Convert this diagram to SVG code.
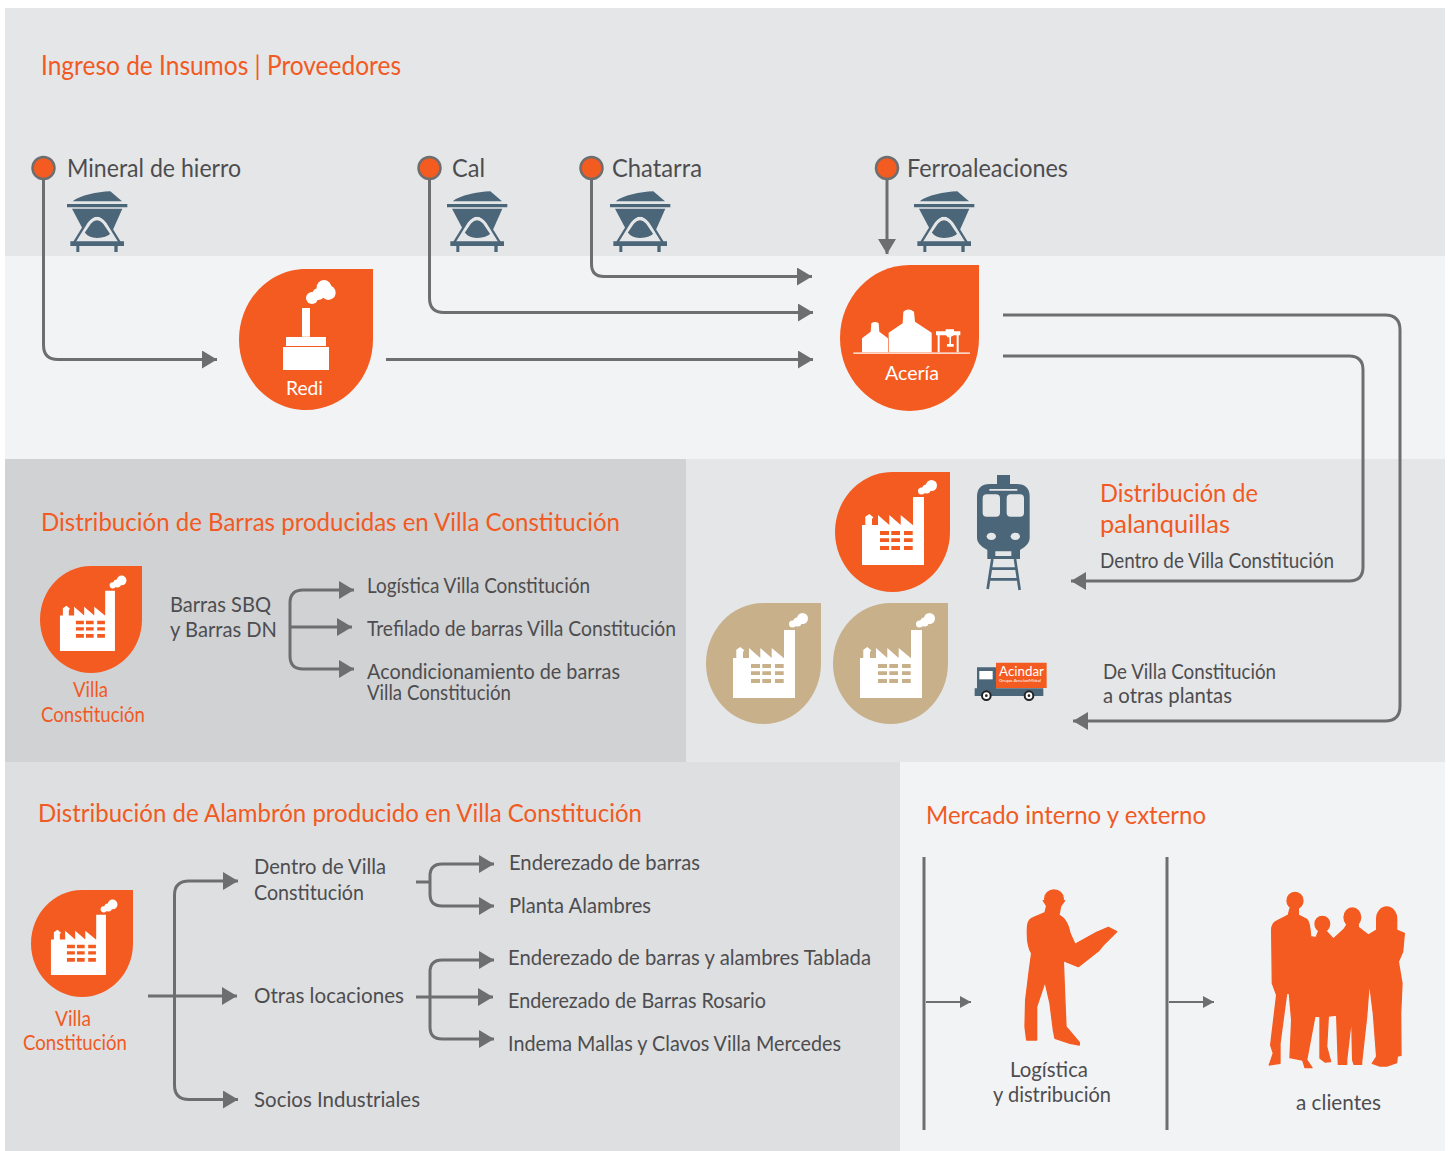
<svg xmlns="http://www.w3.org/2000/svg" width="1451" height="1151" viewBox="0 0 1451 1151">
<style>
text{font-family:"Lato","Noto Sans","Liberation Sans",sans-serif;fill:#4d4d4f}
.h{fill:#f15a22;font-size:25px}
.o{fill:#f15a22;font-size:21px}
.l{font-size:25px}
.m{font-size:22px}
.s{font-size:21px}
.w{fill:#fff;font-size:20px}
.c{fill:none;stroke:#6d6e70;stroke-width:3}
.a{marker-end:url(#arr)}
.b{marker-start:url(#arr);marker-end:url(#arr)}
.t{fill:none;stroke:#6d6e70;stroke-width:2;marker-end:url(#arrs)}
.or{fill:#f45b20;color:#f45b20}
.tan{fill:#c8b08b;color:#c8b08b}
.dot{fill:#f45b20;stroke:#6d6e70;stroke-width:2.5}
.ic{fill:#4c6679}
.sil{fill:#f45b20;stroke:#f45b20;stroke-width:4;stroke-linejoin:round}
</style>
<defs>
<marker id="arr" markerUnits="userSpaceOnUse" markerWidth="16" markerHeight="18" refX="15" refY="9" orient="auto-start-reverse"><path d="M0 0L15 9L0 18Z" fill="#6d6e70"/></marker>
<marker id="arrs" markerUnits="userSpaceOnUse" markerWidth="12" markerHeight="14" refX="11" refY="7" orient="auto"><path d="M0 1L11 7L0 13Z" fill="#6d6e70"/></marker>
<path id="drop" d="M100 0H50C22.4 0 0 22.4 0 50C0 77.6 22.4 100 50 100C77.6 100 100 77.6 100 50Z"/>
<g id="factory">
<path fill="#fff" d="M27 54H30.3V45.7L34.3 43L38.3 46.3L37 48V54H43V44L54.3 54V44L65.7 54V44L77.7 54H78V26H89V94H27Z"/>
<g fill="#fff"><circle cx="96.5" cy="14.5" r="5.5"/><circle cx="91.5" cy="18" r="4.5"/><circle cx="86.5" cy="20" r="3.5"/></g>
<path fill="currentColor" d="M45 60h9v4h-9zM56.3 60h8.7v4h-8.7zM69 60h8.7v4h-8.7zM45 67.3h9v3.7h-9zM56.3 67.3h8.7v3.7h-8.7zM69 67.3h8.7v3.7h-8.7zM45 75h9v4h-9zM56.3 75h8.7v4h-8.7zM69 75h8.7v4h-8.7z"/>
</g>
<g id="hopper" transform="scale(.33333)">
<path class="ic" d="M17 43C40 25 90 15 130 13L165 43ZM0 51H181V61H0ZM15 65H166L135 135Q120 153 90 153Q65 153 52 135Z"/>
<path fill="none" stroke="#e5e6e8" stroke-width="11" d="M24 170L68 106Q90 82 112 106L156 170"/>
<path fill="none" stroke="#4c6679" stroke-width="7" d="M18 172L60 104Q90 68 120 104L162 172"/>
<path fill="#e5e6e8" d="M45 140L30 163H150L135 140Q120 153 90 153Q65 153 45 140Z"/>
<path class="ic" d="M10 163H171V177H10ZM28 177H37V195H28ZM142 177H152V195H142Z"/>
</g>
</defs>

<g id="panels">
<rect x="5" y="8" width="1440" height="248" fill="#e5e6e8"/>
<rect x="5" y="256" width="1440" height="203" fill="#f2f3f5"/>
<rect x="5" y="459" width="681" height="303" fill="#d1d2d4"/>
<rect x="686" y="459" width="759" height="303" fill="#e5e6e8"/>
<rect x="5" y="762" width="895" height="389" fill="#dedfe1"/>
<rect x="900" y="762" width="545" height="389" fill="#f2f3f5"/>
</g>

<g id="connectors">
<path class="c a" d="M43.5 180V345Q43.5 359.5 58 359.5H217"/>
<path class="c a" d="M429.5 180V298Q429.5 312.5 444 312.5H813"/>
<path class="c a" d="M591.5 180V264Q591.5 276.5 604 276.5H812"/>
<path class="c a" d="M887 180V254"/>
<path class="c a" d="M386 359.5H813"/>
<path class="c a" d="M1003 315H1385Q1400 315 1400 330V706Q1400 721 1385 721H1073"/>
<path class="c a" d="M1003 356H1349Q1363 356 1363 370V567Q1363 581 1349 581H1071"/>
<path class="c b" d="M354 590H303Q290 590 290 603V656Q290 669 303 669H354"/>
<path class="c a" d="M290 627H352"/>
<path class="c a" d="M148 996H237"/>
<path class="c b" d="M238 881H189Q174.500 881 174.500 895V1085Q174.500 1099.500 189 1099.500H238"/>
<path class="c" d="M416 882H430"/>
<path class="c b" d="M494 864H442Q430 864 430 876V894Q430 906 442 906H494"/>
<path class="c a" d="M416 997H493"/>
<path class="c b" d="M494 960H442Q430 960 430 972V1027Q430 1039 442 1039H494"/>
<path class="c" d="M924 857V1130M1167 857V1130"/>
<path class="t" d="M926 1002H971"/>
<path class="t" d="M1169 1002H1214"/>
</g>

<g id="title"><text class="h" x="41" y="75" style="font-size:26px" textLength="360" lengthAdjust="spacingAndGlyphs">Ingreso de Insumos | Proveedores</text></g>

<g id="mineral"><circle class="dot" cx="43.500" cy="168" r="11"/><text class="l" x="67" y="177" textLength="174" lengthAdjust="spacingAndGlyphs">Mineral de hierro</text><use href="#hopper" transform="translate(67 187)"/></g>
<g id="cal"><circle class="dot" cx="429.500" cy="168" r="11"/><text class="l" x="452" y="177" textLength="33" lengthAdjust="spacingAndGlyphs">Cal</text><use href="#hopper" transform="translate(447 187)"/></g>
<g id="chatarra"><circle class="dot" cx="591.500" cy="168" r="11"/><text class="l" x="612" y="177" textLength="90" lengthAdjust="spacingAndGlyphs">Chatarra</text><use href="#hopper" transform="translate(610 187)"/></g>
<g id="ferro"><circle class="dot" cx="887" cy="168" r="11"/><text class="l" x="907" y="177" textLength="161" lengthAdjust="spacingAndGlyphs">Ferroaleaciones</text><use href="#hopper" transform="translate(914 187)"/></g>

<g id="redi">
<use href="#drop" class="or" transform="translate(239 269) scale(1.34 1.41)"/>
<g transform="translate(0 140) scale(.33333)" fill="#fff">
<path d="M906 504H930V590H906ZM858 591H978V618H858ZM849 621H987V690H849Z"/>
<circle cx="972" cy="442" r="22"/><circle cx="985" cy="458" r="22"/><circle cx="955" cy="462" r="18"/><circle cx="936" cy="474" r="18"/>
</g>
<text class="w" x="286" y="395" textLength="37" lengthAdjust="spacingAndGlyphs">Redi</text>
</g>

<g id="aceria">
<use href="#drop" class="or" transform="translate(840 265) scale(1.39 1.46)"/>
<g transform="translate(800 150) scale(.33333)" fill="#fff">
<path d="M160 607.500H510V611H160Z"/>
<path d="M186 607V565L212 545L214 520Q225 512 236 520L238 545L264 565V607Z"/>
<path d="M266 607V548L308 520L310 485Q325 472 342 485L345 515L395 548V607Z"/>
<path d="M408 544H437V538H462V544H481V556H476V607H470V556H462L453 560V582H461V590H441V582H448V562H441V558L437 556H419V607H413V556H408Z"/>
</g>
<text class="w" x="885" y="380" textLength="54" lengthAdjust="spacingAndGlyphs">Acería</text>
</g>

<g id="planta-orange" class="or"><use href="#drop" transform="translate(835 472) scale(1.15 1.2)"/><use href="#factory" transform="translate(835 471)"/></g>
<g id="planta-tan-1" class="tan"><use href="#drop" transform="translate(706 603) scale(1.15 1.21)"/><use href="#factory" transform="translate(706 604)"/></g>
<g id="planta-tan-2" class="tan"><use href="#drop" transform="translate(833 603) scale(1.15 1.21)"/><use href="#factory" transform="translate(833 604)"/></g>

<g id="train" transform="translate(700 460) scale(.33333)">
<path class="ic" d="M891 45H930V72H950Q989 72 989 110V235Q989 255 960 270V297H862V270Q831 255 831 235V110Q831 72 870 72H891Z"/>
<path fill="#e5e6e8" d="M868 87H952V92H868ZM860 103H888Q900 103 900 115V158Q900 170 888 170H860Q848 170 848 158V115Q848 103 860 103ZM932 103H960Q972 103 972 115V158Q972 170 960 170H932Q920 170 920 158V115Q920 103 932 103ZM886 274H934V288H886Z"/>
<ellipse fill="#e5e6e8" cx="874" cy="229" rx="14" ry="11"/><ellipse fill="#e5e6e8" cx="946" cy="229" rx="14" ry="11"/>
<path fill="none" stroke="#4c6679" stroke-width="8" d="M877 297L863 387M945 297L959 390M872 326H950M866 358H955"/>
</g>

<g id="truck">
<g transform="translate(700 460) scale(.33333)">
<path class="ic" d="M831 622H888V685H1030V708H824V685H831Z"/>
<path fill="#fff" d="M838 633H878V658H838Z"/>
<path fill="#f45b20" d="M888 608H1040V684H888Z"/>
<circle cx="859" cy="707" r="13" fill="#fff" stroke="#222" stroke-width="6"/><circle cx="987" cy="707" r="13" fill="#fff" stroke="#222" stroke-width="6"/>
<circle cx="859" cy="707" r="4" fill="#222"/><circle cx="987" cy="707" r="4" fill="#222"/>
</g>
<text x="999" y="676" style="fill:#fff;font-size:14px" textLength="45" lengthAdjust="spacingAndGlyphs">Acindar</text>
<text x="999" y="682" style="fill:#fff;font-size:4px" textLength="42" lengthAdjust="spacingAndGlyphs">Grupo ArcelorMittal</text>
</g>

<g id="palanquillas-text">
<text class="h" x="1100" y="502" textLength="158" lengthAdjust="spacingAndGlyphs">Distribución de</text>
<text class="h" x="1100" y="533" textLength="130" lengthAdjust="spacingAndGlyphs">palanquillas</text>
<text class="s" x="1100" y="568" textLength="234" lengthAdjust="spacingAndGlyphs">Dentro de Villa Constitución</text>
<text class="s" x="1103" y="679" textLength="173" lengthAdjust="spacingAndGlyphs">De Villa Constitución</text>
<text class="s" x="1103" y="703" textLength="129" lengthAdjust="spacingAndGlyphs">a otras plantas</text>
</g>

<g id="barras">
<text class="h" x="41" y="531" textLength="579" lengthAdjust="spacingAndGlyphs">Distribución de Barras producidas en Villa Constitución</text>
<g class="or"><use href="#drop" transform="translate(40 566) scale(1.02 1.07)"/><use href="#factory" transform="translate(36 567.600) scale(.887)"/></g>
<text class="o" x="73" y="697" textLength="35" lengthAdjust="spacingAndGlyphs">Villa</text>
<text class="o" x="41" y="722" textLength="104" lengthAdjust="spacingAndGlyphs">Constitución</text>
<text class="m" x="170" y="612" textLength="101" lengthAdjust="spacingAndGlyphs">Barras SBQ</text>
<text class="m" x="170" y="637" textLength="107" lengthAdjust="spacingAndGlyphs">y Barras DN</text>
<text class="s" x="367" y="593" textLength="223" lengthAdjust="spacingAndGlyphs">Logística Villa Constitución</text>
<text class="s" x="367" y="636" textLength="309" lengthAdjust="spacingAndGlyphs">Trefilado de barras Villa Constitución</text>
<text class="s" x="367" y="679" textLength="253" lengthAdjust="spacingAndGlyphs">Acondicionamiento de barras</text>
<text class="s" x="367" y="700" textLength="144" lengthAdjust="spacingAndGlyphs">Villa Constitución</text>
</g>

<g id="alambron">
<text class="h" x="38" y="822" textLength="604" lengthAdjust="spacingAndGlyphs">Distribución de Alambrón producido en Villa Constitución</text>
<g class="or"><use href="#drop" transform="translate(31 890) scale(1.02 1.07)"/><use href="#factory" transform="translate(27 891.600) scale(.887)"/></g>
<text class="o" x="55" y="1026" textLength="36" lengthAdjust="spacingAndGlyphs">Villa</text>
<text class="o" x="23" y="1050" textLength="104" lengthAdjust="spacingAndGlyphs">Constitución</text>
<text class="m" x="254" y="874" textLength="132" lengthAdjust="spacingAndGlyphs">Dentro de Villa</text>
<text class="m" x="254" y="900" textLength="110" lengthAdjust="spacingAndGlyphs">Constitución</text>
<text class="m" x="254" y="1003" textLength="150" lengthAdjust="spacingAndGlyphs">Otras locaciones</text>
<text class="m" x="254" y="1107" textLength="166" lengthAdjust="spacingAndGlyphs">Socios Industriales</text>
<text class="s" x="509" y="870" textLength="191" lengthAdjust="spacingAndGlyphs">Enderezado de barras</text>
<text class="s" x="509" y="913" textLength="142" lengthAdjust="spacingAndGlyphs">Planta Alambres</text>
<text class="s" x="508" y="965" textLength="363" lengthAdjust="spacingAndGlyphs">Enderezado de barras y alambres Tablada</text>
<text class="s" x="508" y="1008" textLength="258" lengthAdjust="spacingAndGlyphs">Enderezado de Barras Rosario</text>
<text class="s" x="508" y="1051" textLength="333" lengthAdjust="spacingAndGlyphs">Indema Mallas y Clavos Villa Mercedes</text>
</g>

<g id="mercado">
<text class="h" x="926" y="824" textLength="280" lengthAdjust="spacingAndGlyphs">Mercado interno y externo</text>
<g transform="translate(990 870) scale(.33333)">
<g id="worker" class="sil">
<ellipse cx="192" cy="86" rx="28" ry="26"/>
<path d="M160 92H224L212 108L207 135C225 145 235 160 240 190L255 223L320 187L355 172L380 185L340 225L325 243L265 290L220 272L225 400L228 470L268 517V525L240 520L195 505L190 480L180 400L165 335L140 410V510L110 510L105 470L107 390L118 300L125 250C115 235 112 215 112 190C112 165 112 150 130 143L165 128L170 108Z"/>
</g>
<g id="group" class="sil">
<ellipse cx="915" cy="92" rx="24" ry="25"/><ellipse cx="997" cy="162" rx="22" ry="23"/><ellipse cx="1087" cy="142" rx="25" ry="28"/><ellipse cx="1190" cy="146" rx="30" ry="35"/>
<path d="M900 115H925V135L950 148C958 155 960 170 962 200L978 203L985 185H1010L1030 207L1062 178L1070 165H1105V172L1135 195L1160 180V150H1220V180L1243 190L1238 245L1225 275L1236 340L1232 430L1233 556L1222 558L1220 578L1190 588H1170L1147 580L1160 560L1150 430L1138 335L1130 440L1115 575V583H1092L1088 570L1085 440L1070 570V583H1045L1040 435L1015 438L1010 530L1022 575L1005 576L990 565L990 440L975 438L950 570L966 593H945L938 570L900 563L905 450L898 370H890L870 520V580L838 585L850 550L842 525L860 375L847 340L845 180C845 165 850 158 860 153L895 135Z"/>
</g>
</g>
<text class="s" x="1010" y="1077" textLength="78" lengthAdjust="spacingAndGlyphs">Logística</text>
<text class="s" x="993" y="1102" textLength="118" lengthAdjust="spacingAndGlyphs">y distribución</text>
<text class="s" x="1296" y="1110" textLength="85" lengthAdjust="spacingAndGlyphs">a clientes</text>
</g>
</svg>
